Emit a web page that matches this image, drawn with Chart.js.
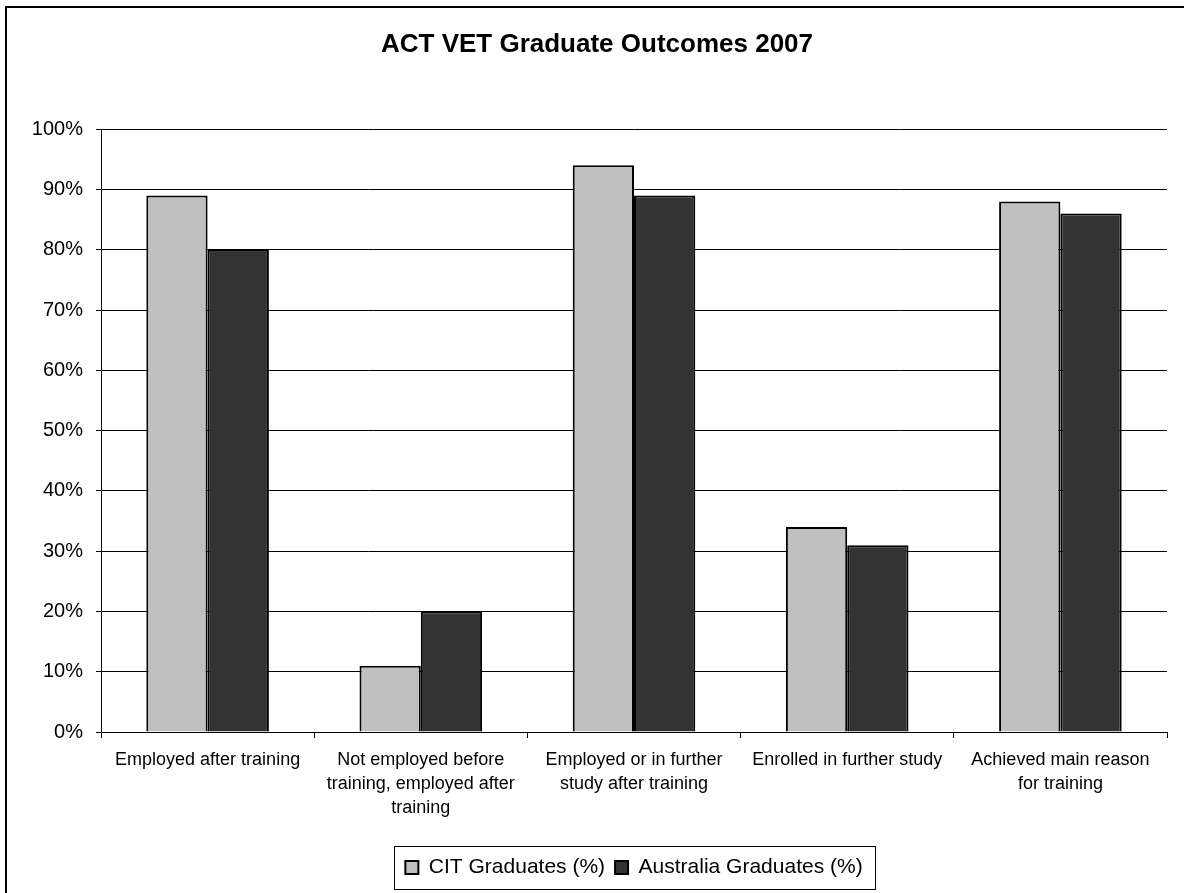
<!DOCTYPE html>
<html lang="en">
  <head>
    <meta charset="UTF-8" />
    <title>ACT VET Graduate Outcomes 2007</title>
    <script src="https://cdn.jsdelivr.net/npm/chart.js"></script>
    <style>
      html,body{margin:0;padding:0;background:#fff;overflow:hidden}
      canvas{display:block}
    </style>
  </head>
  <body>
    <canvas id="chart" width="1184" height="893"></canvas>

    <script>
      // data
      const categories = [
        ['Employed after training'],
        ['Not employed before', 'training, employed after', 'training'],
        ['Employed or in further', 'study after training'],
        ['Enrolled in further study'],
        ['Achieved main reason', 'for training']
      ];
      const citGraduates = [89, 11, 94, 34, 88];
      const australiaGraduates = [80, 20, 89, 31, 86];
      const yTicks = [0, 10, 20, 30, 40, 50, 60, 70, 80, 90, 100];

      const FONT = "'Liberation Sans', Arial, sans-serif";

      // outer frame of the chart + box round the legend
      const frame = {
        id: 'frame',
        beforeDraw(c) {
          const ctx = c.ctx;
          ctx.save();
          ctx.fillStyle = '#fff';
          ctx.fillRect(0, 0, c.width, c.height);
          ctx.strokeStyle = '#000';
          ctx.lineWidth = 2;
          ctx.strokeRect(6, 7, 1400, 1000);
          ctx.restore();
        },
        afterDraw(c) {
          const boxes = c.legend.legendHitBoxes;
          if (!boxes || !boxes.length) return;
          const last = boxes[boxes.length - 1];
          const l = boxes[0].left - 11;
          const r = last.left + last.width + 13;
          const t = boxes[0].top - 11;
          const b = boxes[0].top + boxes[0].height + 11;
          const ctx = c.ctx;
          ctx.save();
          ctx.strokeStyle = '#000';
          ctx.lineWidth = 1;
          ctx.strokeRect(Math.round(l) + 0.5, Math.round(t) + 0.5, Math.round(r - l), Math.round(b - t));
          ctx.restore();
        }
      };

      new Chart(document.getElementById('chart'), {
        type: 'bar',
        data: {
          labels: categories,
          datasets: [
            { label: 'CIT Graduates (%)', data: citGraduates, backgroundColor: '#c0c0c0', borderColor: '#000', borderWidth: 2 },
            { label: 'Australia Graduates (%)', data: australiaGraduates, backgroundColor: '#333333', borderColor: '#000', borderWidth: 2 }
          ]
        },
        options: {
          responsive: false,
          animation: false,
          categoryPercentage: 0.575,
          barPercentage: 1,
          layout: { padding: { left: 27, right: 17, top: 0, bottom: 5 } },
          plugins: {
            title: {
              display: true,
              text: 'ACT VET Graduate Outcomes 2007',
              color: '#000',
              font: { family: FONT, size: 26, weight: 'bold', lineHeight: 1.2 },
              padding: { top: 29, bottom: 69 }
            },
            legend: {
              position: 'bottom',
              fullSize: false,
              labels: {
                color: '#000',
                font: { family: FONT, size: 21 },
                boxWidth: 13,
                boxHeight: 13,
                padding: 10
              }
            },
            tooltip: { enabled: false }
          },
          scales: {
            x: {
              grid: { drawOnChartArea: false, drawTicks: true, tickLength: 6, color: '#000', offset: true },
              border: { color: '#000', width: 1 },
              ticks: { color: '#000', font: { family: FONT, size: 18, lineHeight: 1.33 }, padding: 10, maxRotation: 0, autoSkip: false },
              afterFit: s => { s.height = 115; }
            },
            y: {
              min: 0,
              max: 100,
              afterBuildTicks: s => { s.ticks = yTicks.map(v => ({ value: v })); },
              grid: { color: '#000', lineWidth: 1, tickLength: 5 },
              border: { color: '#000', width: 1 },
              ticks: { color: '#000', font: { family: FONT, size: 20 }, padding: 13, callback: v => v + '%' },
              afterFit: s => { s.width = 74; }
            }
          }
        },
        plugins: [frame]
      });
    </script>
  </body>
</html>
